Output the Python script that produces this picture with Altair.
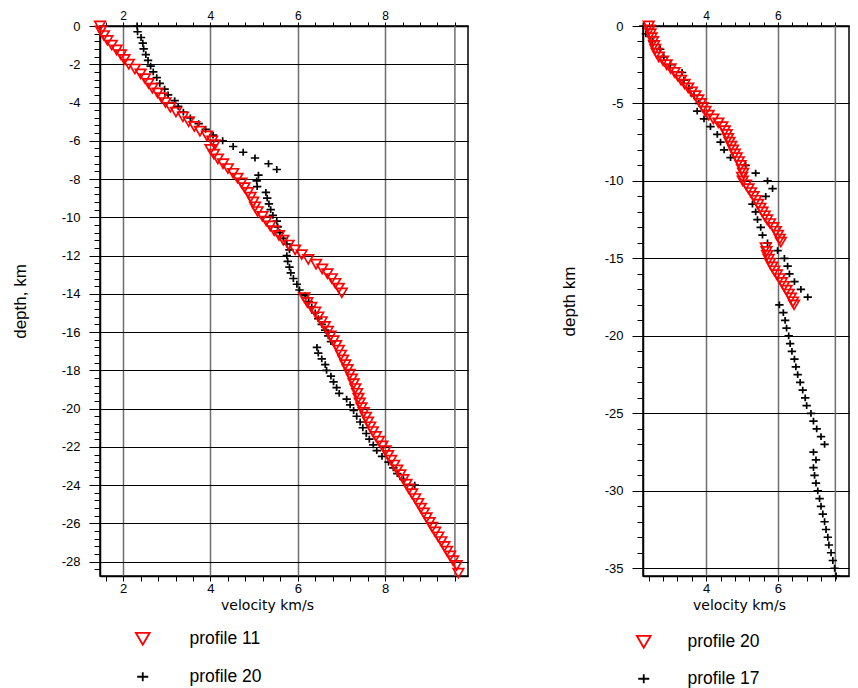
import json
import altair as alt
import pandas as pd

# ---------------- data ----------------
# Left panel: profile 11 (red triangles)
left_p11_depth = [0, -0.25, -0.5, -0.75, -1.0, -1.25, -1.5, -1.75, -2.0, -2.25, -2.5, -2.75, -3.0,
                  -3.25, -3.5, -3.75, -4.0, -4.25, -4.5, -4.75, -5.0, -5.25, -5.5, -5.75, -6.0, -6.2,
                  -6.45, -6.7, -6.95, -7.2, -7.45, -7.7, -7.95, -8.2, -8.45, -8.7, -8.95, -9.2, -9.45,
                  -9.7, -9.95, -10.2, -10.45, -10.7, -10.95, -11.2, -11.45, -11.7, -11.95, -12.2,
                  -12.45, -12.7, -12.95, -13.2, -13.45, -13.7, -13.95,
                  -14.2, -14.45, -14.7, -14.95, -15.2, -15.45, -15.7, -15.95, -16.2, -16.45, -16.7,
                  -16.95, -17.2, -17.45, -17.7, -17.95, -18.2, -18.45, -18.7, -18.95, -19.2, -19.45,
                  -19.7, -19.95, -20.2, -20.45, -20.7, -20.95, -21.2, -21.45, -21.7, -21.95, -22.2,
                  -22.45, -22.7, -22.95, -23.2, -23.45, -23.7, -23.95, -24.2, -24.45, -24.7, -24.95,
                  -25.2, -25.45, -25.7, -25.95, -26.2, -26.45, -26.7, -26.95, -27.2, -27.45, -27.7,
                  -27.95, -28.2, -28.6]
left_p11_vel = [1.47, 1.49, 1.56, 1.64, 1.74, 1.85, 1.95, 2.03, 2.13, 2.27, 2.40, 2.50, 2.58,
                2.67, 2.79, 2.88, 2.97, 3.08, 3.21, 3.37, 3.50, 3.63, 3.76, 3.92, 4.04, 4.10,
                4.00, 4.08, 4.17, 4.29, 4.40, 4.52, 4.62, 4.71, 4.78, 4.86, 4.92, 4.98, 5.02,
                5.08, 5.19, 5.28, 5.37, 5.46, 5.57, 5.67, 5.79, 5.94, 6.09, 6.24,
                6.42, 6.56, 6.68, 6.78, 6.86, 6.94, 7.01,
                6.15, 6.22, 6.31, 6.40, 6.47, 6.55, 6.62, 6.69, 6.75, 6.82, 6.88,
                6.94, 6.99, 7.04, 7.09, 7.14, 7.19, 7.24, 7.28, 7.32, 7.36, 7.39,
                7.42, 7.46, 7.51, 7.56, 7.61, 7.66, 7.72, 7.79, 7.86, 7.94, 8.01,
                8.07, 8.14, 8.21, 8.28, 8.35, 8.42, 8.49, 8.55, 8.62, 8.69, 8.76,
                8.82, 8.89, 8.95, 9.02, 9.08, 9.15, 9.22, 9.29, 9.36, 9.42, 9.49,
                9.56, 9.64, 9.68]

# Left panel: profile 20 (black crosses)
left_p20_depth = [0, -0.3, -0.6, -0.9, -1.2, -1.5, -1.8, -2.1, -2.4, -2.7, -3.0, -3.3, -3.6, -3.9,
                  -4.2, -4.5, -4.8, -5.1, -5.4, -5.7, -6.0, -6.3, -6.6, -6.9, -7.2, -7.5, -7.8,
                  -8.1, -8.4, -8.7, -9.0, -9.3, -9.6, -9.9, -10.2, -10.5, -10.8, -11.1, -11.4,
                  -11.7, -12.0, -12.3, -12.6, -12.9, -13.2, -13.5, -13.8, -14.1, -14.4, -14.7,
                  -15.0, -15.3, -15.6, -15.9, -16.2, -16.5, -16.8, -17.1, -17.4, -17.7, -18.0,
                  -18.3, -18.6, -18.9, -19.2, -19.5, -19.8, -20.1, -20.4, -20.7, -21.0, -21.3,
                  -21.6, -21.9, -22.2, -22.5, -22.8, -23.1, -23.4, -23.7, -24.0]
left_p20_vel = [2.32, 2.33, 2.41, 2.45, 2.47, 2.52, 2.57, 2.63, 2.69, 2.77, 2.84, 2.95, 3.03, 3.18,
                3.26, 3.38, 3.54, 3.73, 3.89, 4.06, 4.28, 4.52, 4.75, 5.02, 5.33, 5.52, 5.10,
                5.06, 5.07, 5.27, 5.30, 5.34, 5.38, 5.43, 5.52, 5.54, 5.59, 5.67, 5.75,
                5.81, 5.75, 5.77, 5.81, 5.84, 5.90, 5.98, 6.04, 6.17, 6.25, 6.32,
                6.40, 6.47, 6.55, 6.63, 6.70, 6.76, 6.44, 6.47, 6.55, 6.63, 6.66,
                6.76, 6.82, 6.89, 6.95, 7.12, 7.20, 7.28, 7.35, 7.43, 7.49, 7.57,
                7.64, 7.73, 7.81, 7.93, 8.08, 8.19, 8.28, 8.42, 8.68]

# Right panel: profile 20 (red triangles)
right_p20_depth = [0, -0.25, -0.5, -0.75, -1.0, -1.25, -1.5, -1.75, -2.0, -2.25, -2.5, -2.75, -3.0,
                   -3.25, -3.5, -3.75, -4.0, -4.25, -4.5, -4.75, -5.0, -5.25, -5.5, -5.75, -6.0,
                   -6.25, -6.5, -6.75, -7.0, -7.25, -7.5, -7.75, -8.0, -8.25, -8.5, -8.75, -9.0,
                   -9.25, -9.5, -9.75, -10.0, -10.25, -10.5, -10.75, -11.0, -11.25, -11.5, -11.75,
                   -12.0, -12.25, -12.5, -12.75, -13.0, -13.25, -13.5, -13.75, -13.95,
                   -14.3, -14.55, -14.8, -15.05, -15.3, -15.55, -15.8, -16.05, -16.3, -16.55,
                   -16.8, -17.05, -17.3, -17.55, -17.8, -18.0]
right_p20_vel = [2.40, 2.42, 2.45, 2.48, 2.52, 2.55, 2.58, 2.62, 2.68, 2.80, 2.90, 3.01, 3.12,
                 3.21, 3.30, 3.40, 3.50, 3.60, 3.70, 3.78, 3.85, 3.91, 3.98, 4.07, 4.20,
                 4.34, 4.45, 4.52, 4.57, 4.61, 4.65, 4.70, 4.75, 4.80, 4.85, 4.91, 4.96,
                 5.00, 5.03, 5.00, 5.02, 5.11, 5.18, 5.25, 5.32, 5.39, 5.45, 5.51,
                 5.57, 5.63, 5.70, 5.78, 5.87, 5.94, 6.00, 6.05, 6.08,
                 5.66, 5.68, 5.70, 5.74, 5.78, 5.84, 5.90, 5.97, 6.05, 6.11,
                 6.17, 6.24, 6.30, 6.36, 6.42, 6.45]

# Right panel: profile 17 (black crosses)
right_p17_depth = [0, -0.5, -1.0, -1.5, -2.0, -2.5, -3.0, -3.5, -4.0, -4.5, -5.0, -5.5, -6.0, -6.5,
                   -7.0, -7.5, -8.0, -8.5, -9.0, -9.5, -10.0, -10.5, -11.0, -11.5, -12.0, -12.5,
                   -13.0, -13.5, -14.0, -14.5, -15.0, -15.5, -16.0, -16.5, -17.0, -17.5, -18.0,
                   -18.5, -19.0, -19.5, -20.0, -20.5, -21.0, -21.5, -22.0, -22.5, -23.0, -23.5,
                   -24.0, -24.5, -25.0, -25.5, -26.0, -26.5, -27.0, -27.5, -28.0, -28.5, -29.0,
                   -29.5, -30.0, -30.5, -31.0, -31.5, -32.0, -32.5, -33.0, -33.5, -34.0, -34.5,
                   -35.0, -35.5]
right_p17_vel = [2.25, 2.32, 2.50, 2.72, 2.82, 3.00, 3.33, 3.38, 3.52, 3.66, 3.80, 3.75, 3.94, 4.12,
                 4.31, 4.40, 4.50, 4.68, 5.10, 5.38, 5.71, 5.85, 5.66, 5.29, 5.38, 5.43,
                 5.52, 5.57, 5.71, 5.99, 6.18, 6.27, 6.32, 6.46, 6.64, 6.83, 6.04,
                 6.15, 6.20, 6.24, 6.30, 6.34, 6.39, 6.46, 6.50, 6.55, 6.62, 6.69,
                 6.76, 6.80, 6.92, 6.99, 7.08, 7.20, 7.30, 6.99, 7.06, 6.99, 7.02,
                 7.06, 7.11, 7.16, 7.20, 7.25, 7.30, 7.34, 7.39, 7.42, 7.48, 7.53,
                 7.58, 7.62]

# axes: tick positions and labelled (major) values
left_x_domain = [1.47, 9.9]
left_y_domain = [-28.75, 0]
left_x_ticks = [round(1.6 + 0.4 * i, 1) for i in range(21)]
left_x_major = [2, 4, 6, 8]
left_y_ticks = [round(-0.4 * i, 1) for i in range(72)]
left_y_major = [0, -2, -4, -6, -8, -10, -12, -14, -16, -18, -20, -22, -24, -26, -28]
left_extra_grid = [9.6]

right_x_domain = [2.24, 7.98]
right_y_domain = [-35.5, 0]
right_x_ticks = [round(2.4 + 0.4 * i, 1) for i in range(14)]
right_x_major = [4, 6]
right_y_ticks = [float(-i) for i in range(36)]
right_y_major = [0, -5, -10, -15, -20, -25, -30, -35]
right_extra_grid = [7.6]

left_profiles = ["profile 11", "profile 20"]
right_profiles = ["profile 20", "profile 17"]

# ---------------- styling ----------------
RED = "#ff0000"
BLACK = "#000000"
GRIDGREY = "#6e6e6e"
NARROW = "Liberation Sans Narrow, Arial Narrow, Liberation Sans, sans-serif"
TICKFONT = "Liberation Sans, Arial, sans-serif"
TITLEFONT = "DejaVu Sans, Verdana, sans-serif"
PLUS = "M-0.8,0H0.8M0,-0.65V0.65"


def frame(profiles, depth_a, vel_a, depth_b, vel_b):
    # black crosses first so that the red triangles sit on top
    a = pd.DataFrame({"depth": depth_b, "velocity": vel_b, "profile": profiles[1]})
    b = pd.DataFrame({"depth": depth_a, "velocity": vel_a, "profile": profiles[0]})
    return pd.concat([a, b], ignore_index=True)


def is_major(majors):
    return f"indexof({json.dumps(majors)}, datum.value) >= 0"


def panel(df, profiles, xdom, ydom, xticks, xmajor, yticks, ymajor, extra, ytitle,
          width, height, title_x, xtitle_x, leg_x, leg_y, leg_offset, leg_row):
    xscale = alt.Scale(domain=xdom, nice=False, zero=False)
    yscale = alt.Scale(domain=ydom, nice=False, zero=False)
    legend = alt.Legend(
        orient="none", legendX=leg_x, legendY=leg_y, direction="vertical", title=None,
        labelFont=NARROW, labelFontSize=17.5, labelColor=BLACK, symbolSize=190,
        symbolStrokeWidth=1.8, labelOffset=leg_offset, rowPadding=leg_row,
    )
    x_bottom = alt.Axis(
        orient="bottom", values=xticks,
        labelExpr=f"{is_major(xmajor)} ? '' + datum.value : ''",
        grid=True, gridColor=GRIDGREY, gridWidth=1.5,
        gridOpacity={"condition": {"test": is_major(xmajor), "value": 1}, "value": 0},
        tickSize=5, tickColor=BLACK, tickWidth=1, domainColor=BLACK, domainWidth=1.5,
        labelFont=TICKFONT, labelFontSize=13, labelColor=BLACK, labelPadding=1,
        title="velocity km/s", titleFont=TITLEFONT, titleFontSize=14,
        titleFontWeight="normal", titleColor=BLACK, titlePadding=3, titleX=xtitle_x,
    )
    x_top = alt.Axis(
        orient="top", values=xticks,
        labelExpr=f"{is_major(xmajor)} ? '' + datum.value : ''",
        grid=False, tickSize=4, tickColor=BLACK, domainColor=BLACK, domainWidth=1.5,
        labelFont=TICKFONT, labelFontSize=12, labelColor=BLACK, labelPadding=0,
        title=None, minExtent=15, maxExtent=15,
    )
    y_left = alt.Axis(
        orient="left", values=yticks,
        labelExpr=f"{is_major(ymajor)} ? '' + datum.value : ''",
        grid=True, gridColor=BLACK, gridWidth=1,
        gridOpacity={"condition": {"test": is_major(ymajor), "value": 1}, "value": 0},
        tickSize={"condition": {"test": is_major(ymajor), "value": 11}, "value": 6},
        tickColor=BLACK, domainColor=BLACK, domainWidth=1.5,
        labelFont=TICKFONT, labelFontSize=13, labelColor=BLACK, labelPadding=9,
        title=ytitle, titleFont=NARROW, titleFontSize=17, titleFontWeight="normal",
        titleColor=BLACK, titleX=title_x, titleBaseline="middle", titleAngle=270,
    )
    points = alt.Chart(df).mark_point(filled=False, size=110, strokeWidth=1.7, opacity=1).encode(
        x=alt.X("velocity:Q", scale=xscale, axis=x_bottom),
        y=alt.Y("depth:Q", scale=yscale, axis=y_left),
        color=alt.Color("profile:N", scale=alt.Scale(domain=profiles, range=[RED, BLACK]), legend=legend),
        shape=alt.Shape("profile:N", scale=alt.Scale(domain=profiles, range=["triangle-down", PLUS]),
                        legend=legend),
    )
    extra_df = pd.DataFrame({"v": extra})
    rule = alt.Chart(extra_df).mark_rule(color=GRIDGREY, strokeWidth=1.5).encode(
        x=alt.X("v:Q", scale=xscale, axis=x_top),
    )
    return alt.layer(rule, points).resolve_axis(x="independent").properties(width=width, height=height)


left_df = frame(left_profiles, left_p11_depth, left_p11_vel, left_p20_depth, left_p20_vel)
right_df = frame(right_profiles, right_p20_depth, right_p20_vel, right_p17_depth, right_p17_vel)

left = panel(left_df, left_profiles, left_x_domain, left_y_domain, left_x_ticks, left_x_major,
             left_y_ticks, left_y_major, left_extra_grid, "depth, km",
             368, 550, -80, 167, 34, 604, 38, 18)
right = panel(right_df, right_profiles, right_x_domain, right_y_domain, right_x_ticks, right_x_major,
              right_y_ticks, right_y_major, right_extra_grid, "depth km",
              206, 550, -74, 96, -8, 607, 35, 17)

chart = (
    alt.hconcat(left, right, spacing=90)
    .resolve_scale(x="independent", y="independent", color="independent", shape="independent")
    .resolve_legend(color="independent", shape="independent")
    .configure_view(stroke=BLACK, strokeWidth=1.5)
    .properties(padding={"left": 2, "top": 0, "right": 0, "bottom": 0}, background="white")
)

chart.save("out.html", embed_options={"renderer": "svg", "actions": False})
